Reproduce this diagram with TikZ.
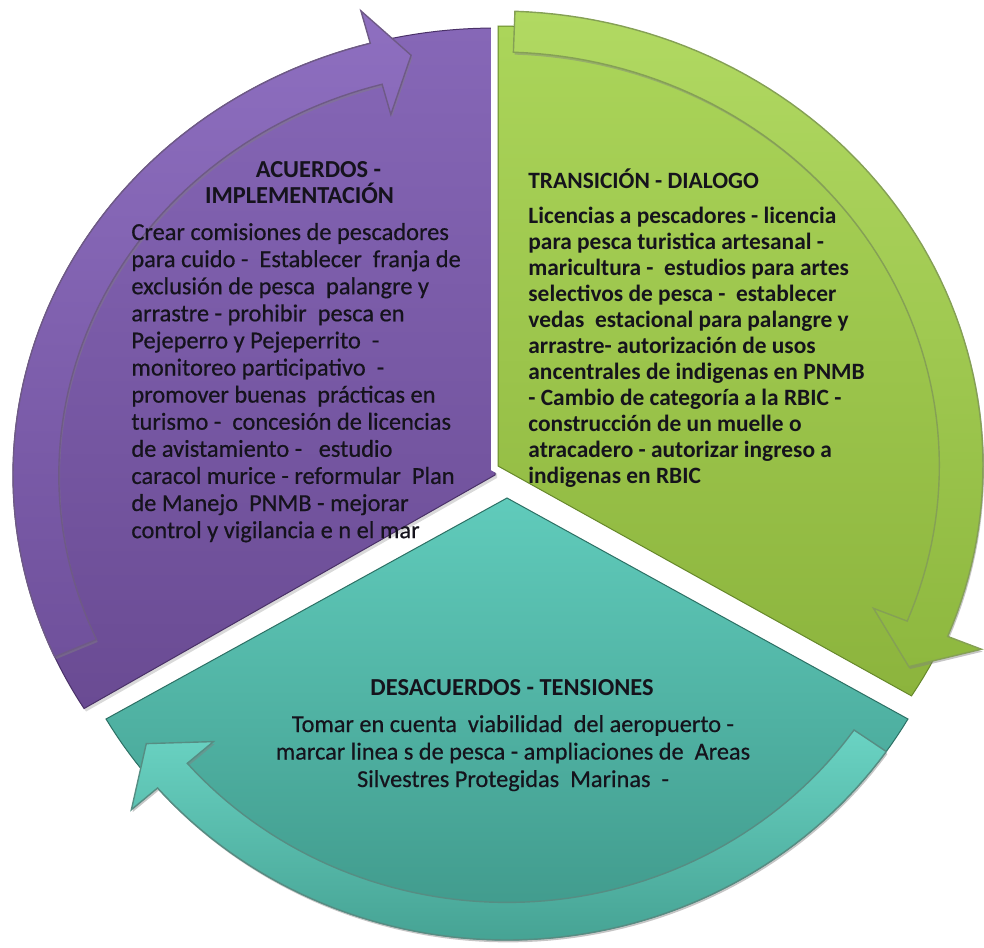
\documentclass[tikz,border=0pt]{standalone}
\usepackage{fontspec}
\setmainfont{Carlito}
\newfontfamily\rgfont{Carlito}[FakeBold=0.5]
\usetikzlibrary{shadows}
\definecolor{putop}{HTML}{8667B7}
\definecolor{pubot}{HTML}{6A4B93}
\definecolor{pudk}{HTML}{4A3168}
\definecolor{pubt}{HTML}{8E6FC0}
\definecolor{pubb}{HTML}{70519C}
\definecolor{grtop}{HTML}{ABD55A}
\definecolor{grbot}{HTML}{8CB43D}
\definecolor{grdk}{HTML}{66882A}
\definecolor{grbt}{HTML}{B1D962}
\definecolor{grbb}{HTML}{8EB83F}
\definecolor{tetop}{HTML}{60CBBB}
\definecolor{tebot}{HTML}{3F988A}
\definecolor{tedk}{HTML}{2C7064}
\definecolor{tebt}{HTML}{6AD3C3}
\definecolor{tebb}{HTML}{46A394}
\definecolor{txt}{HTML}{15131C}
\tikzset{
  declare function={
    pux(\a,\s)=495+482*\s*cos(\a); puy(\a,\s)=475-447*\s*sin(\a);
    grx(\a,\s)=498+485*\s*cos(\a); gry(\a,\s)=466-440*\s*sin(\a);
    gbx(\a,\s)=498+485*\s*cos(\a); gby(\a,\s)=466-455*\s*sin(\a);
    tex(\a,\s)=507+463*\s*cos(\a); tey(\a,\s)=498-442*\s*sin(\a);
  },
  seg/.style={line width=0.5pt, drop shadow={shadow xshift=1pt, shadow yshift=-1.5pt, opacity=0.3}},
  band/.style={line width=0.7pt, drop shadow={shadow xshift=0.6pt, shadow yshift=-1.2pt, opacity=0.45}},
  gapline/.style={preaction={draw=white, line width=7pt}},
  lbl/.style={inner sep=0pt, text=txt},
  headfont/.style={font=\fontsize{12.2}{13.6}\selectfont\bfseries},
  pufont/.style={font=\rgfont\fontsize{12.2}{13.6}\selectfont},
  grfont/.style={font=\fontsize{11.7}{13}\selectfont\bfseries},
  tefont/.style={font=\rgfont\fontsize{12.15}{13.75}\selectfont},
}
\begin{document}
\begin{tikzpicture}[x=0.5pt,y=-0.5pt]
\useasboundingbox (0,0) rectangle (984,947);

% ---------- purple segment ----------
\path[seg, draw=pudk, top color=putop, bottom color=pubot]
  (495,475) -- plot[domain=90:211.5, samples=90, variable=\t] ({pux(\t,1)},{puy(\t,1)}) -- cycle;
\path[band, draw=pudk!80, top color=pubt, bottom color=pubb]
  ({pux(204,1)},{puy(204,1)})
  -- plot[domain=0:99, samples=70, variable=\t] ({pux(204-\t,1)},{puy(204-\t,1)})
  -- ({pux(105,1.075)},{puy(105,1.075)})
  -- ({pux(100.5,0.955)},{puy(100.5,0.955)})
  -- ({pux(105,0.835)},{puy(105,0.835)})
  -- plot[domain=0:99, samples=70, variable=\t] ({pux(105+\t,0.905)},{puy(105+\t,0.905)})
  -- cycle;
\node[lbl, headfont, anchor=base] (ph1) at (318.5,177) {ACUERDOS -};
\node[lbl, headfont, anchor=base] (ph2) at (299.5,203.5) {IMPLEMENTACIÓN};
\foreach \line [count=\i] in {
  Crear comisiones de pescadores,
  para cuido -~ Establecer~ franja de,
  exclusión de pesca~ palangre y,
  arrastre - prohibir~ pesca en,
  Pejeperro y Pejeperrito~ -,
  monitoreo participativo~ -,
  promover buenas~ prácticas en,
  turismo -~ concesión de licencias,
  de avistamiento -~~ estudio,
  caracol murice - reformular~ Plan,
  de Manejo~ PNMB - mejorar,
  control y vigilancia e n el mar}
  \node[lbl, pufont, anchor=base west] (pt\i) at (131,{240+27.1*(\i-1)}) {\line};

% ---------- green segment ----------
\path[seg, gapline, draw=grdk, top color=grtop, bottom color=grbot]
  (498,466) -- plot[domain=-31.5:90, samples=90, variable=\t] ({grx(\t,1)},{gry(\t,1)}) -- cycle;
\path[band, draw=grdk!80, top color=grbt, bottom color=grbb]
  ({gbx(88,1)},{gby(88,1)})
  -- plot[domain=0:110, samples=70, variable=\t] ({gbx(88-\t,1)},{gby(88-\t,1)})
  -- ({gbx(-22,1.075)},{gby(-22,1.075)})
  -- ({gbx(-27.5,0.955)},{gby(-27.5,0.955)})
  -- ({gbx(-22,0.835)},{gby(-22,0.835)})
  -- plot[domain=0:110, samples=70, variable=\t] ({gbx(-22+\t,0.91)},{gby(-22+\t,0.91)})
  -- cycle;
\node[lbl, grfont, anchor=base west] (gh) at (528,188.5) {TRANSICIÓN - DIALOGO};
\foreach \line [count=\i] in {
  Licencias a pescadores - licencia,
  para pesca turistica artesanal -,
  maricultura -~ estudios para artes,
  selectivos de pesca -~ establecer,
  vedas~ estacional para palangre y,
  arrastre- autorización de usos,
  ancentrales de indigenas en PNMB,
  - Cambio de categoría a la RBIC -,
  construcción de un muelle o,
  atracadero - autorizar ingreso a,
  indigenas en RBIC}
  \node[lbl, grfont, anchor=base west] (gt\i) at (528,{223.5+26*(\i-1)}) {\line};

% ---------- teal segment ----------
\path[seg, gapline, draw=tedk, top color=tetop, bottom color=tebot]
  (507,498) -- plot[domain=210:330, samples=90, variable=\t] ({tex(\t,1)},{tey(\t,1)}) -- cycle;
\path[band, draw=tedk!80, top color=tebt, bottom color=tebb]
  ({tex(325,1)},{tey(325,1)})
  -- plot[domain=0:104, samples=70, variable=\t] ({tex(325-\t,1)},{tey(325-\t,1)})
  -- ({tex(221,1.075)},{tey(221,1.075)})
  -- ({tex(215.5,0.957)},{tey(215.5,0.957)})
  -- ({tex(221,0.84)},{tey(221,0.84)})
  -- plot[domain=0:104, samples=70, variable=\t] ({tex(221+\t,0.915)},{tey(221+\t,0.915)})
  -- cycle;
\node[lbl, headfont, anchor=base] (th) at (512,695) {DESACUERDOS - TENSIONES};
\node[lbl, tefont, anchor=base] (tt1) at (513,732) {Tomar en cuenta~ viabilidad~ del aeropuerto -};
\node[lbl, tefont, anchor=base] (tt2) at (513,759.5) {marcar linea s de pesca - ampliaciones de~ Areas};
\node[lbl, tefont, anchor=base] (tt3) at (513,787) {Silvestres Protegidas~ Marinas~ -};
\end{tikzpicture}
\end{document}
